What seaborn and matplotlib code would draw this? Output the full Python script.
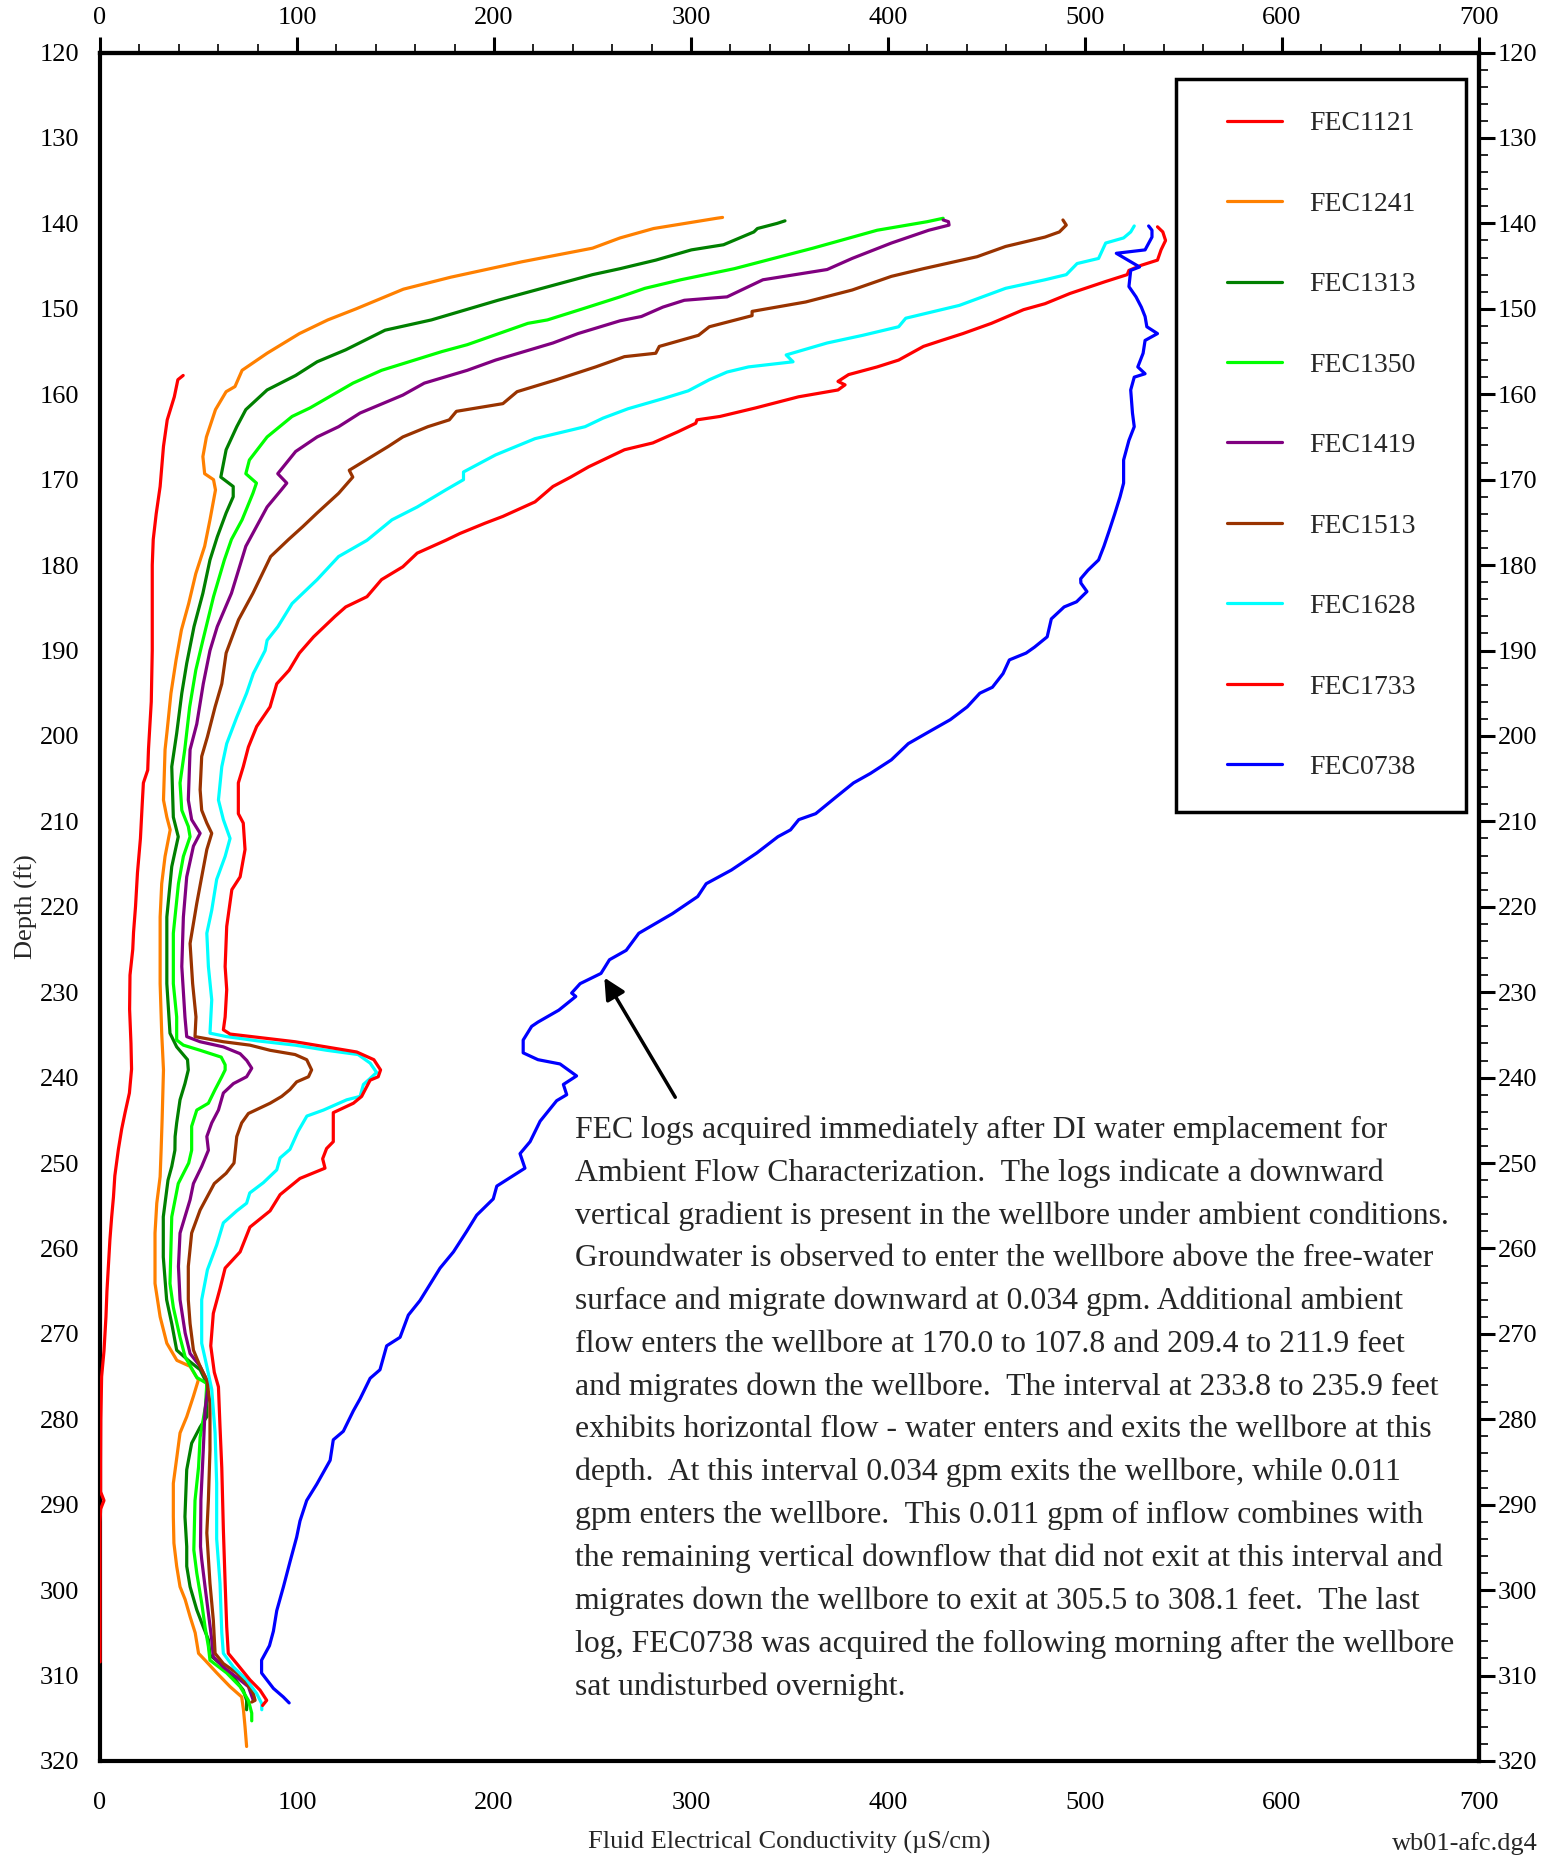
import matplotlib
matplotlib.use("Agg")
import matplotlib.pyplot as plt
import pandas as pd
import seaborn as sns
from matplotlib.lines import Line2D
from matplotlib.legend_handler import HandlerLine2D
from matplotlib.ticker import MultipleLocator

sns.set_style("white")
plt.rcParams["font.family"] = ["Liberation Serif", "DejaVu Serif"]

log_names = ["FEC1121", "FEC1241", "FEC1313", "FEC1350", "FEC1419",
             "FEC1513", "FEC1628", "FEC1733", "FEC0738"]
log_colors = ["#FF0000", "#FF8000", "#008000", "#00FF00", "#800080",
              "#993300", "#00FFFF", "#FF0000", "#0000FF"]

fec1121_depth = [157.8, 158.3, 160.3, 163, 166.1, 170.8, 174, 177, 180, 190, 196, 201.5,
                 204, 205.5, 208, 212, 216, 220, 223, 225, 228, 232, 236, 239, 241.8,
                 244.1, 246, 248.4, 251.5, 254, 256.3, 259, 262.2, 265, 268, 272, 275,
                 280, 285, 288.5, 289.5, 290.5, 292, 300, 308.4]
fec1121_val = [42.2, 39.5, 37.7, 34.1, 32.2, 30.5, 28.5, 27, 26.5, 26.5, 26, 24.6,
               24.2, 22, 21.4, 20.5, 19, 18, 17, 16.6, 15.2, 15, 15.7, 16, 14.9,
               12.7, 11, 9.3, 7.5, 6.8, 5.9, 5, 4.2, 3.5, 3, 2, 0.8,
               0.4, 0.3, 0.3, 2, 0.3, 0, 0, 0]

fec1241_depth = [139.3, 139.4, 140.6, 141.7, 142.9, 144.5, 146.3, 147.7, 150, 151.3,
                 152.9, 155.2, 157.2, 159.1, 159.7, 161.8, 165, 167.3, 169.3, 170,
                 171.2, 174.7, 177.8, 181, 184.5, 187.6, 191.1, 195, 199.5, 201.6,
                 207.5, 209.5, 211, 214.1, 217.3, 221.2, 229, 234.8, 239.1, 245,
                 248.5, 251.6, 254.7, 258.2, 264.1, 268, 271.1, 273.1, 273.8, 275.4,
                 277.3, 279.7, 281.6, 284.4, 287.5, 291.4, 294.5, 297.2, 299.6, 301.1,
                 303.1, 305, 307.4, 308.2, 309.7, 311.3, 312.5, 314, 316, 318.3]
fec1241_val = [316, 313, 281, 264, 250, 214, 178, 154, 130, 115.6,
               101.2, 84.8, 72.1, 68.5, 64, 58.6, 54, 52.2, 53.1, 57.6,
               58.6, 55.8, 53.1, 48.6, 45, 41.3, 38.6, 36, 34, 33,
               32.2, 33.9, 35.6, 33, 31.3, 30.5, 30.5, 31.3, 32.2, 31.5,
               31, 30.5, 28.8, 27.9, 27.9, 30.5, 33.9, 39, 45.7, 49.9,
               47.4, 44, 40.6, 39, 37.2, 37.2, 37.5, 38.9, 40.6, 43.2,
               45.7, 48.3, 50, 53.3, 59.3, 66, 71.9, 72.8, 73.6, 74.4]

fec1313_depth = [139.7, 140, 140.6, 141, 142.5, 143.1, 144.3, 144.9, 145.3, 146, 149,
                 151.3, 152.5, 154.8, 156.2, 157.8, 159.5, 161.8, 163.8, 166.5, 169.7,
                 170.8, 172, 173.9, 176.7, 179.4, 183.3, 187.2, 191.5, 195, 199.7,
                 203.6, 209.5, 211.8, 215.3, 221.2, 229, 234.8, 236.4, 237.9, 239.1,
                 240.7, 242.6, 245.3, 246.9, 248.5, 250.4, 252, 256.3, 261, 266,
                 268.8, 271.9, 273.1, 274.2, 275.8, 279.7, 280.9, 282.8, 285.9, 291.4,
                 294.9, 297.2, 299.6, 302.3, 304.3, 305.8, 307.6, 308.6, 310.2, 311.7,
                 312.9, 314]
fec1313_val = [347.7, 343.7, 333.7, 331.9, 316.5, 300.2, 282.1, 271.2, 264, 250, 202,
               168.2, 144.7, 124.7, 110.2, 99.3, 84.8, 74, 69.4, 64, 61.3,
               67.6, 67.6, 64, 59.5, 55.8, 52.2, 47.7, 44, 41.5, 38.9,
               36.4, 37.2, 39.7, 36.4, 33.9, 33.9, 35.5, 38.9, 44.4, 44.8,
               43.1, 40.6, 38.9, 38.1, 38, 36.4, 34.5, 32.1, 32.1, 33.8,
               36.4, 38.9, 44.8, 50.8, 54.2, 54.2, 50.8, 46.5, 44, 43.1,
               44, 44, 45.7, 49.1, 52.4, 55, 55.8, 60.9, 67.7, 72.7,
               74.4, 74.4]

fec1350_depth = [139.4, 139.8, 140.8, 142.9, 144.1, 145.3, 146.6, 147.6, 148.6, 150,
                 151.3, 151.7, 154.2, 155, 157.2, 158.7, 161.6, 162.6, 165, 167.7,
                 169.3, 170.4, 171.6, 174.7, 177, 179.4, 183.7, 188.8, 192.3, 196.6,
                 201.6, 205.5, 208.7, 210.6, 211.8, 214.1, 217.3, 223.1, 229, 232.9,
                 235.6, 236.2, 236.8, 237.6, 238.5, 239.1, 239.9, 241.4, 243, 243.8,
                 245.7, 248.5, 250, 252.4, 256.3, 264.1, 266.9, 270.4, 272.7, 275.1,
                 275.8, 278.5, 282.1, 285.6, 289.5, 295.3, 298, 301.5, 304.3, 306.6,
                 308.2, 309.7, 311.3, 312.9, 314.4, 315.3]
fec1350_val = [428, 419.9, 394.5, 361.9, 341.9, 322, 294.8, 276.6, 264, 245,
               227.1, 217.2, 186.4, 173.6, 142.9, 128.4, 106.6, 97.5, 84.8, 75.8,
               74, 79.4, 77.6, 72.1, 66.7, 63.1, 57.6, 52.2, 48.6, 45.5,
               43, 40.6, 41.5, 44.8, 45.7, 42.3, 39.8, 37.2, 37.2, 38.9,
               38.9, 42.3, 50.8, 61.5, 63.5, 63.5, 61.8, 58.4, 55, 49.1,
               46.5, 46.5, 45, 39.7, 36.4, 35.5, 37.2, 40.6, 43.2, 49.1,
               54.2, 53.5, 50.8, 50, 48.2, 47.6, 49.1, 51.6, 53.3, 55,
               55.8, 64.3, 71.1, 75.3, 77, 77]

fec1419_depth = [139.6, 139.8, 140.2, 140.8, 142.3, 144.1, 145.4, 146.6, 148.6, 149,
                 149.8, 150.9, 151.4, 152.9, 154, 156, 157.2, 158.7, 160.1, 162.2,
                 163.8, 165, 166.7, 169.3, 170.4, 171.2, 173.2, 175.5, 177.8, 183.3,
                 187.2, 190, 193.9, 198.6, 201.6, 207.5, 209.8, 211.4, 212.9, 216.5,
                 221.2, 227, 232.9, 235.2, 235.8, 236.4, 237.2, 238, 238.9, 239.9,
                 240.7, 241.8, 243.8, 245.3, 246.9, 248.5, 250.4, 252.4, 254.3, 258.2,
                 262.1, 266, 269.9, 272.3, 273.8, 275.8, 278.9, 283.6, 289.4, 294.9,
                 296.4, 299.6, 302.7, 305.8, 307.8, 309, 310.2, 311.3, 312.9]
fec1419_val = [428, 430.7, 431, 420.7, 401.7, 381.8, 369.1, 336.5, 318.3, 296.6,
               285.7, 274.8, 264, 242.6, 229.9, 200.8, 186.4, 164.6, 153.7, 132,
               121.1, 110.2, 99.3, 90.2, 94.8, 92, 84.8, 79.4, 74, 66.7,
               59.5, 55.8, 52.4, 49.1, 45.7, 44.8, 46.5, 50.8, 47.4, 44,
               42.3, 41.5, 43.1, 44, 50.8, 62.6, 71.1, 74.5, 77, 74.4,
               67.7, 62.6, 60.1, 56.7, 54.2, 55, 51.6, 47.4, 45.7, 40.6,
               39.8, 40.6, 43.2, 45.7, 50.8, 55, 53.3, 52.4, 51.2, 51,
               51.6, 53.3, 55, 56.7, 57.5, 62.6, 69.4, 75.3, 77.8]

fec1513_depth = [139.6, 140.2, 141, 141.6, 142.7, 143.9, 145.3, 146.2, 147.8, 149.2,
                 150.3, 150.8, 152.1, 153.1, 154.4, 155.2, 155.6, 156.8, 158.3, 159.7,
                 161.1, 162, 163, 163.8, 165, 166.1, 168.9, 169.7, 171.6, 173.9,
                 175.5, 177, 179, 183.3, 186.4, 190.3, 193.9, 196.6, 200.1, 202.4,
                 206.3, 208.7, 210.2, 211.4, 213.3, 216.5, 219.6, 224.3, 229, 232.9,
                 235.2, 235.8, 236.2, 236.8, 237.3, 237.9, 239.1, 239.9, 240.5, 241.4,
                 242.2, 243, 244.2, 245.3, 246.9, 250, 251.2, 252.4, 255.5, 258.2,
                 262.1, 266, 268.8, 271.9, 273.8, 275.4, 278.1, 283.6, 289.4, 293.3,
                 299.2, 303.5, 307.4, 308.6, 309.7, 310.9, 312.1, 312.9, 313.1]
fec1513_val = [488.8, 490.5, 487, 479.7, 459.7, 445.2, 418, 401.7, 381.8, 358.2,
               331, 331, 309.3, 303.8, 283.9, 282.1, 266.2, 251.6, 231.7, 211.7,
               204.5, 180.9, 177.3, 166.4, 153.7, 146.4, 126.5, 128.3, 121.1, 110.2,
               102.9, 95.7, 86.6, 77.6, 70.3, 64, 61.8, 58.4, 54.5, 51.6,
               50.8, 51.6, 54.2, 56.7, 54.2, 51.6, 49.1, 45.7, 47, 48.7,
               48.2, 62.6, 76.1, 86.3, 99, 104.9, 107.4, 105.8, 99.8, 96.4,
               92.2, 86.3, 75.3, 71.9, 69.4, 68, 64, 58, 50.8, 46.5,
               44.8, 44.8, 45.7, 47.4, 50.8, 54.2, 55.8, 55.8, 55, 54.2,
               55.8, 57.5, 58.4, 62.6, 69.4, 74.4, 77.8, 78.7, 77]

fec1628_depth = [140.3, 141, 141.7, 142.3, 144.1, 144.7, 146, 146.6, 147.6, 149.6,
                 151.1, 152.1, 153.1, 154, 155.4, 156.2, 156.8, 157.4, 158.3, 159.6,
                 160.5, 161.7, 162.8, 163.8, 165.2, 167.1, 169.1, 170, 171.2, 173.2,
                 174.7, 177.1, 179, 181.7, 184.5, 187.2, 188.8, 190, 192.7, 195,
                 197.8, 200.9, 203.6, 207.5, 209.8, 212, 214.1, 216.8, 220.4, 223.1,
                 227, 230.9, 234.8, 235.2, 235.7, 236.2, 236.8, 237.3, 238.3, 239.4,
                 240.1, 240.8, 242.2, 242.6, 243.8, 244.5, 246.3, 248.4, 249.4, 250.8,
                 252.3, 253.5, 254.7, 255.6, 257, 259.6, 262.5, 266, 271.1, 273.8,
                 276.5, 281.6, 287.5, 294, 299.2, 305, 307.4, 309, 310.5, 312.1,
                 313.3, 314]
fec1628_val = [525, 523.2, 519.6, 510.5, 506.9, 496, 490.5, 479.7, 459.7, 436.2,
               409, 405.4, 387.2, 369.1, 348.3, 351.8, 329.2, 318.3, 309.3, 298.6,
               286, 268, 255.3, 246.2, 220.8, 200.8, 184.5, 184.5, 175.5, 161,
               148.2, 135.5, 121.1, 110.2, 97.5, 90.3, 84.8, 83.8, 77.8, 74.4,
               69.4, 64.3, 61.8, 60.1, 62.6, 66, 63.5, 59.2, 56.7, 54.2,
               55, 56.7, 55.8, 64.3, 80, 99, 115, 131, 137.1, 140.4,
               137.1, 133.7, 132, 125.2, 113.4, 105, 100.5, 96.4, 91.4, 89.7,
               82.9, 76, 74.4, 69.4, 62.6, 59.2, 54.5, 51.6, 51.6, 54.2,
               56.7, 58.4, 59.2, 59.2, 60.9, 61.8, 62.6, 67.7, 74.4, 79.5,
               82.1, 82.1]

fec1733_depth = [140.4, 141, 142, 143.1, 144.3, 144.9, 145.5, 146, 146.8, 148.2,
                 149.4, 150.1, 151.7, 152.9, 153.7, 154.4, 156, 156.8, 157.7, 158.5,
                 158.9, 159.5, 160.3, 161.6, 162.6, 163, 163.4, 164.4, 165.7, 166.5,
                 168.5, 169.7, 170.8, 172.6, 174.3, 175.1, 176.3, 177.1, 178.6, 180.2,
                 181.7, 183.7, 184.9, 186, 188.4, 190.3, 192.3, 193.9, 196.6, 198.9,
                 201.3, 203.6, 205.5, 209.1, 210.2, 213.3, 216.5, 218, 222.3, 227,
                 229.7, 232.9, 234.4, 234.9, 235.8, 237, 237.9, 239.1, 239.9, 240.3,
                 241.4, 242.2, 243, 244.1, 247.5, 248.3, 249.5, 250.6, 251.8, 253.7,
                 255.6, 257.5, 260.4, 262.3, 264.7, 267.6, 271.4, 274.5, 276.2, 280.9,
                 285.7, 292.9, 299.2, 304.3, 307.4, 308.6, 310.5, 311.7, 312.9, 313.5]
fec1733_val = [536.8, 539.5, 540.9, 538.6, 536.8, 528.6, 522.3, 521.4, 510.5, 492.4,
               479.7, 468.8, 452.5, 438, 427.2, 418, 405.4, 394.5, 380, 374.6,
               378.2, 374.6, 354.6, 332.8, 314.7, 303, 302.4, 293.3, 280.6, 266.2,
               248, 238.9, 229.9, 220.8, 204.5, 195.4, 182.7, 175.5, 161, 153.7,
               142.9, 135.5, 124.7, 119.3, 108.4, 101.2, 96, 89.7, 86.3, 79.5,
               75.3, 72.7, 70.2, 70.2, 72.7, 73.6, 71.1, 66.9, 64.3, 63.5,
               64.3, 63.5, 62.6, 66, 99, 130.3, 139, 142.4, 141.2, 137.1,
               134.6, 132.8, 128.6, 118.4, 118.4, 115, 113, 114.2, 101.5, 91.4,
               86.3, 76.1, 71.1, 63.5, 60.9, 57.5, 56.2, 58, 60.1, 60.9,
               61.8, 62.6, 63.5, 64.3, 65.1, 69.4, 76.1, 81.2, 84.6, 82.5]

fec0738_depth = [140.3, 140.8, 141.6, 143.1, 143.5, 145.1, 145.5, 147.4, 148.6, 149.8,
                 150.9, 152.1, 152.9, 153.7, 155.2, 156.8, 157.6, 158, 159.5, 162.2,
                 163.8, 165.4, 167.7, 170.4, 172, 174, 175.9, 177.8, 179.4, 180.6,
                 181.6, 182.1, 183.1, 184.3, 184.9, 186.3, 188.4, 189.6, 190.3, 191.1,
                 192.7, 194.3, 195, 196.6, 198.1, 199.5, 200.9, 202.8, 204.4, 205.5,
                 207.1, 209.1, 209.8, 211, 211.8, 213.7, 215.7, 217.3, 218.8, 220.8,
                 223.1, 225.1, 226.2, 227.8, 229, 230.1, 230.5, 232.1, 233.5, 234,
                 235.6, 237.1, 237.9, 238.4, 239.8, 240.8, 242, 242.7, 245.1, 247.5,
                 248.9, 250.6, 252.7, 254.2, 256.1, 258, 260.4, 262.3, 264.2, 266.1,
                 267.8, 270.4, 271.4, 274.2, 275.2, 277.6, 279, 281.4, 282.4, 284.8,
                 286.2, 287.6, 289.5, 291.9, 293.8, 296.7, 299.6, 302.4, 304.8, 306.5,
                 308.2, 309.7, 311.5, 312.5, 313.2]
fec0738_val = [532.3, 534, 534, 530.5, 515.9, 527.7, 523.2, 522.3, 525.9, 528.6,
               530.5, 531.4, 536.8, 530.5, 529.5, 526.8, 530.5, 525, 523.2, 524.1,
               525, 522.3, 519.6, 519.6, 517.8, 515.1, 512.4, 509.6, 506.9, 501.5,
               497.8, 497.9, 501, 495.7, 489.4, 482.9, 480.8, 474.4, 470.1, 461.6,
               458.4, 453, 446.6, 440.2, 431.6, 420.9, 410.3, 401.7, 391, 382.5,
               373.9, 363.3, 354.7, 350.5, 344.1, 333.4, 320.5, 307.7, 303.4, 290.6,
               273.5, 267.1, 258.6, 254.3, 243.7, 239.4, 241.5, 232.9, 222.3, 219.1,
               214.8, 214.8, 222.3, 233.5, 241.9, 235.2, 236.9, 231.8, 223.4, 218.3,
               213.2, 215.7, 201.4, 199.6, 191.2, 186.1, 179.4, 172.6, 167.5, 162.4,
               156.5, 152.3, 145.5, 142.1, 137.1, 132, 128.6, 123.5, 118.4, 116.8,
               113.4, 110, 104.9, 101.5, 99.8, 96.4, 93.1, 89.7, 88, 86,
               82, 82, 88, 93, 96]

depth_series = [fec1121_depth, fec1241_depth, fec1313_depth, fec1350_depth, fec1419_depth,
                fec1513_depth, fec1628_depth, fec1733_depth, fec0738_depth]
value_series = [fec1121_val, fec1241_val, fec1313_val, fec1350_val, fec1419_val,
                fec1513_val, fec1628_val, fec1733_val, fec0738_val]

note_text = (
    "FEC logs acquired immediately after DI water emplacement for\n"
    "Ambient Flow Characterization.  The logs indicate a downward\n"
    "vertical gradient is present in the wellbore under ambient conditions.\n"
    "Groundwater is observed to enter the wellbore above the free-water\n"
    "surface and migrate downward at 0.034 gpm. Additional ambient\n"
    "flow enters the wellbore at 170.0 to 107.8 and 209.4 to 211.9 feet\n"
    "and migrates down the wellbore.  The interval at 233.8 to 235.9 feet\n"
    "exhibits horizontal flow - water enters and exits the wellbore at this\n"
    "depth.  At this interval 0.034 gpm exits the wellbore, while 0.011\n"
    "gpm enters the wellbore.  This 0.011 gpm of inflow combines with\n"
    "the remaining vertical downflow that did not exit at this interval and\n"
    "migrates down the wellbore to exit at 305.5 to 308.1 feet.  The last\n"
    "log, FEC0738 was acquired the following morning after the wellbore\n"
    "sat undisturbed overnight."
)

fig, ax = plt.subplots(figsize=(15.56, 18.57), dpi=100)
fig.subplots_adjust(left=0.0643, right=0.9505, top=0.9717, bottom=0.0517)

for name, color, d, v in zip(log_names, log_colors, depth_series, value_series):
    df = pd.DataFrame({"fec": v, "depth": d})
    sns.lineplot(data=df, x="fec", y="depth", sort=False, estimator=None,
                 color=color, linewidth=2.3, ax=ax, legend=False, zorder=3)

ax.set_xlim(0, 700)
ax.set_ylim(320, 120)
for axis, maj, mnr in ((ax.xaxis, 100, 20), (ax.yaxis, 10, 2)):
    axis.set_major_locator(MultipleLocator(maj))
    axis.set_minor_locator(MultipleLocator(mnr))

for sp in ax.spines.values():
    sp.set_linewidth(3)
    sp.set_color("black")
    sp.set_visible(True)

ax.tick_params(which="major", direction="out", length=11.5, width=2.2,
               labelsize=19, colors="black")
ax.tick_params(which="minor", direction="out", length=6.5, width=1.2, colors="black")
ax.tick_params(axis="x", which="major", pad=10.5)
ax.tick_params(axis="y", which="major", pad=3.6)

secx = ax.secondary_xaxis("top")
secx.xaxis.set_major_locator(MultipleLocator(100))
secx.xaxis.set_minor_locator(MultipleLocator(20))
secx.tick_params(which="major", direction="out", length=11.5, width=2.2,
                 labelsize=19, pad=5.3, colors="black")
secx.tick_params(which="minor", direction="out", length=6.5, width=1.2, colors="black")
secx.spines["top"].set_linewidth(3)

secy = ax.secondary_yaxis("right")
secy.yaxis.set_major_locator(MultipleLocator(10))
secy.yaxis.set_minor_locator(MultipleLocator(2))
secy.tick_params(which="major", direction="out", length=11.5, width=2.2,
                 labelsize=19, pad=2, colors="black")
secy.tick_params(which="minor", direction="out", length=6.5, width=1.2, colors="black")
secy.spines["right"].set_linewidth(3)

ax.set_xlabel("Fluid Electrical Conductivity (\u00b5S/cm)", fontsize=19)
ax.xaxis.set_label_coords(0.5, -0.041)
ax.set_ylabel("Depth (ft)", fontsize=19)
ax.yaxis.set_label_coords(-0.045, 0.5)

handles = [Line2D([], [], color=c, linewidth=2.3) for c in log_colors]
leg = ax.legend(handles, log_names, loc="upper left", mode="expand",
                bbox_to_anchor=(0.7803, 0.5, 0.2103, 0.4845), borderaxespad=0,
                fontsize=20, frameon=True, fancybox=False, borderpad=1.15,
                handlelength=2.66, handletextpad=0.97, labelspacing=1.98,
                handler_map={Line2D: HandlerLine2D(xpad=0.7)})
leg.get_frame().set_edgecolor("black")
leg.get_frame().set_linewidth(2.5)
leg.get_frame().set_alpha(1)

ax.text(241, 244.4, note_text, fontsize=22.9, ha="left", va="top", linespacing=1.604)
ax.annotate("", xy=(256, 228.3), xytext=(292, 242.3),
            arrowprops=dict(arrowstyle="-|>", color="black", lw=2.5,
                            mutation_scale=32, shrinkA=0, shrinkB=0))

fig.text(0.988, 0.004, "wb01-afc.dg4", fontsize=19, ha="right", va="baseline")

fig.savefig("out.png", dpi=100)
